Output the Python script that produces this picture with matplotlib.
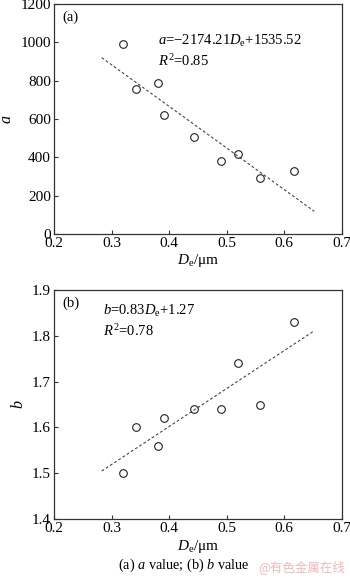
import matplotlib
matplotlib.use("Agg")
import matplotlib.pyplot as plt
import numpy as np

plt.rcParams['font.family'] = ['Liberation Serif', 'DejaVu Serif']
plt.rcParams['mathtext.fontset'] = 'custom'
plt.rcParams['mathtext.rm'] = 'Liberation Serif'
plt.rcParams['mathtext.it'] = 'Liberation Serif:italic'

# measured particle size and fitted coefficients
de = [0.320, 0.342, 0.380, 0.391, 0.444, 0.490, 0.520, 0.558, 0.617]
a_vals = [992, 757, 788, 620, 505, 382, 417, 293, 330]
b_vals = [1.50, 1.60, 1.56, 1.62, 1.64, 1.64, 1.74, 1.65, 1.83]

# linear fits
a_slope, a_icpt = -2174.21, 1535.52
b_slope, b_icpt = 0.83, 1.27
fit_x = [0.283, 0.652]

x_ticks = [0.2, 0.3, 0.4, 0.5, 0.6, 0.7]
a_ticks = [0, 200, 400, 600, 800, 1000, 1200]
b_ticks = [1.4, 1.5, 1.6, 1.7, 1.8, 1.9]

fig = plt.figure(figsize=(3.5, 5.79), dpi=100)
ax1 = fig.add_axes([0.154, 0.596, 0.823, 0.397])
ax2 = fig.add_axes([0.154, 0.1036, 0.823, 0.3954])

spine_c = '#333333'


def style(ax):
    for s in ax.spines.values():
        s.set_color(spine_c)
        s.set_linewidth(0.9)
    ax.tick_params(direction='in', length=3, width=0.8, color=spine_c,
                   labelsize=11, pad=2)
    ax.set_xlim(0.2, 0.7)
    ax.set_xticks(x_ticks)
    ax.set_xticklabels([f'{v:.1f}' for v in x_ticks])
    ax.set_xlabel(r'$D_{\mathrm{e}}$/μm', fontsize=11, labelpad=2)


fx = np.array(fit_x)

ax1.plot(fx, a_slope * fx + a_icpt, ls=(0, (2.5, 2)), color='#444444', lw=0.8)
ax1.plot(de, a_vals, 'o', mfc='none', mec='#222222', ms=5.5, mew=0.8)
ax1.set_ylim(0, 1200)
ax1.set_yticks(a_ticks)
ax1.set_ylabel(r'$a$', fontsize=11.5, labelpad=4)
style(ax1)
ax1.text(0.03, 0.97, '(a)', transform=ax1.transAxes, fontsize=10.5,
         va='top', ha='left')
ax1.text(0.36, 0.875, r'$a$=−2174.21$D_{\mathrm{e}}$+1535.52',
         transform=ax1.transAxes, fontsize=10.5, va='top', ha='left')
ax1.text(0.36, 0.785, r'$R^{2}$=0.85', transform=ax1.transAxes,
         fontsize=10.5, va='top', ha='left')

ax2.plot(fx, b_slope * fx + b_icpt, ls=(0, (2.5, 2)), color='#444444', lw=0.8)
ax2.plot(de, b_vals, 'o', mfc='none', mec='#222222', ms=5.5, mew=0.8)
ax2.set_ylim(1.4, 1.9)
ax2.set_yticks(b_ticks)
ax2.set_yticklabels([f'{v:.1f}' for v in b_ticks])
ax2.set_ylabel(r'$b$', fontsize=11.5, labelpad=4)
style(ax2)
ax2.text(0.03, 0.97, '(b)', transform=ax2.transAxes, fontsize=10.5,
         va='top', ha='left')
ax2.text(0.17, 0.945, r'$b$=0.83$D_{\mathrm{e}}$+1.27',
         transform=ax2.transAxes, fontsize=10.5, va='top', ha='left')
ax2.text(0.17, 0.855, r'$R^{2}$=0.78', transform=ax2.transAxes,
         fontsize=10.5, va='top', ha='left')

fig.text(0.525, 0.009, r'(a) $a$ value; (b) $b$ value', fontsize=10.3,
         ha='center', va='bottom')
fig.text(0.985, 0.008, '@有色金属在线', fontsize=9, color='#f2b8b8',
         ha='right', va='bottom', family=['Noto Sans CJK SC', 'DejaVu Sans'])

fig.savefig('out.png', dpi=100)
